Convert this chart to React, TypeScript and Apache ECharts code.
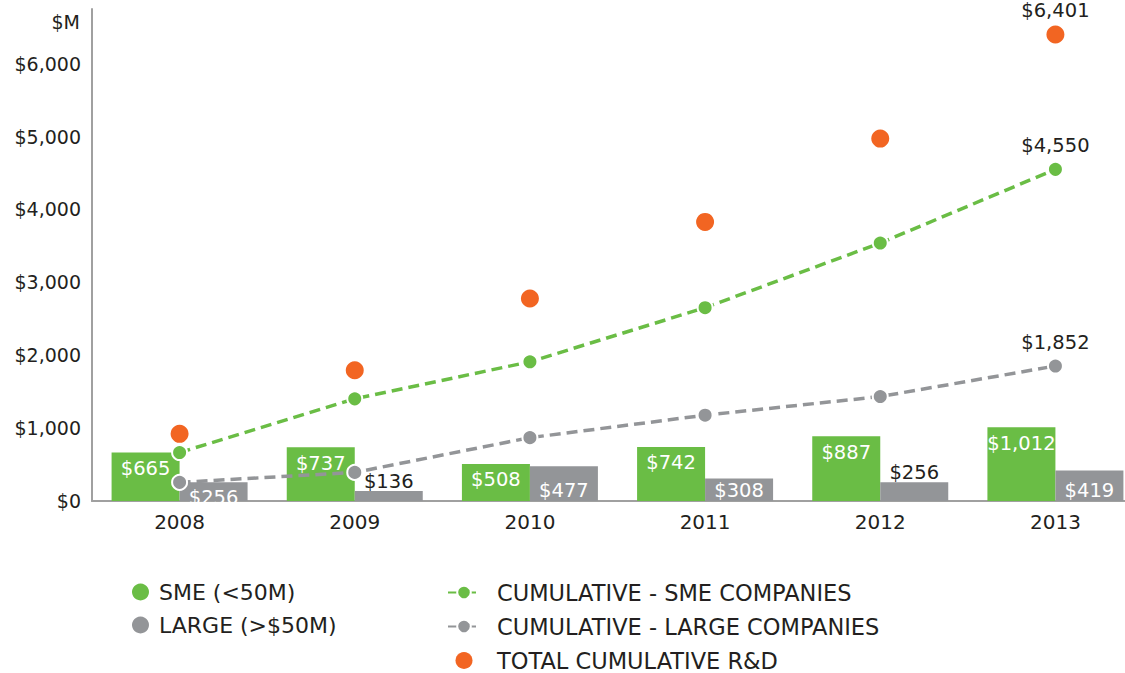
import React, { useEffect, useRef } from "react";
import * as echarts from "echarts";

const years = ["2008", "2009", "2010", "2011", "2012", "2013"];
const smeAnnual = [665, 737, 508, 742, 887, 1012];
const largeAnnual = [256, 136, 477, 308, 256, 419];
const smeCumulative = [665, 1402, 1910, 2652, 3539, 4550];
const largeCumulative = [256, 392, 869, 1177, 1433, 1852];
const totalCumulative = [921, 1794, 2779, 3829, 4972, 6401];
const yTickValues = [0, 1000, 2000, 3000, 4000, 5000, 6000];

const NAMES = {
  sme: "SME (<50M)",
  large: "LARGE (>$50M)",
  cumSme: "CUMULATIVE - SME COMPANIES",
  cumLarge: "CUMULATIVE - LARGE COMPANIES",
  total: "TOTAL CUMULATIVE R&D",
};

const GREEN = "#6abd45";
const GRAY = "#939598";
const ORANGE = "#f26522";
const TEXT = "#231f20";
const AXIS = "#a0a0a0";
const FONT = "DejaVu Sans";

const money = (v: number) => "$" + v.toLocaleString("en-US");

export default function App() {
  const ref = useRef<HTMLDivElement>(null);

  useEffect(() => {
    if (!ref.current) return;
    const chart = echarts.init(ref.current, undefined, { renderer: "svg" });
    const last = years.length - 1;

    const endLabel = {
      show: true,
      position: "top",
      distance: 5,
      color: TEXT,
      fontSize: 19.5,
      fontFamily: FONT,
      formatter: (p: any) => money(p.value),
    };

    const lineData = (arr: number[]) =>
      arr.map((v, i) => (i === last ? { value: v, label: endLabel } : v));

    const largeData = largeAnnual.map((v, i) => {
      const above = i === 1 || i === 4;
      return {
        value: v,
        label: above
          ? { show: true, position: "top", distance: 0, color: TEXT }
          : {
              show: true,
              position: "insideBottom",
              distance: 1,
              color: "#ffffff",
              offset: i === 0 ? [0, 7] : [0, 0],
            },
      };
    });

    const legendCommon = {
      orient: "vertical",
      top: 581,
      height: 100,
      padding: 0,
      itemHeight: 17,
      itemGap: 11,
      selectedMode: false,
    };

    const option: any = {
      animation: false,
      textStyle: { fontFamily: FONT },
      grid: {
        left: 92,
        width: 1051,
        top: 9,
        bottom: 172,
        containLabel: false,
        outerBoundsMode: "none",
      },
      graphic: [
        {
          type: "text",
          x: 80,
          y: 22,
          style: {
            text: "$M",
            align: "right",
            verticalAlign: "middle",
            textAlign: "right",
            textVerticalAlign: "middle",
            fill: TEXT,
            fontSize: 19,
            fontFamily: FONT,
          },
        },
      ],
      legend: [
        {
          ...legendCommon,
          data: [
            { name: NAMES.sme, icon: "circle" },
            { name: NAMES.large, icon: "circle" },
          ],
          left: 132,
          itemWidth: 17,
          textStyle: { fontSize: 22, color: TEXT, fontFamily: FONT, padding: [0, 0, 0, 5] },
        },
        {
          ...legendCommon,
          data: [
            { name: NAMES.cumSme },
            { name: NAMES.cumLarge },
            { name: NAMES.total, icon: "circle" },
          ],
          left: 447,
          itemWidth: 32,
          textStyle: { fontSize: 22.5, color: TEXT, fontFamily: FONT, padding: [0, 0, 0, 12] },
        },
      ],
      xAxis: {
        type: "category",
        data: years,
        axisLine: { show: true, lineStyle: { color: AXIS, width: 2 } },
        axisTick: { show: false },
        axisLabel: { fontSize: 20, color: TEXT, fontFamily: FONT, margin: 11 },
      },
      yAxis: {
        type: "value",
        min: 0,
        max: 6750,
        interval: 1000,
        axisLine: { show: true, lineStyle: { color: AXIS, width: 2 } },
        axisTick: { show: false },
        splitLine: { show: false },
        axisLabel: {
          fontSize: 19,
          color: TEXT,
          fontFamily: FONT,
          margin: 11,
          showMaxLabel: false,
          formatter: (v: number) => (yTickValues.includes(v) ? money(v) : ""),
        },
      },
      series: [
        {
          name: NAMES.sme,
          type: "bar",
          data: smeAnnual,
          barWidth: 68,
          barGap: "0%",
          itemStyle: { color: GREEN },
          label: {
            show: true,
            position: "insideTop",
            distance: 6,
            color: "#ffffff",
            fontSize: 19.5,
            fontFamily: FONT,
            formatter: (p: any) => money(p.value),
          },
        },
        {
          name: NAMES.large,
          type: "bar",
          data: largeData,
          barWidth: 68,
          barGap: "0%",
          itemStyle: { color: GRAY },
          label: {
            fontSize: 19.5,
            fontFamily: FONT,
            formatter: (p: any) => money(p.value),
          },
        },
        {
          name: NAMES.cumSme,
          type: "line",
          data: lineData(smeCumulative),
          symbol: "circle",
          symbolSize: 15,
          lineStyle: { color: GREEN, width: 3.5, type: [11, 6] },
          itemStyle: { color: GREEN, borderColor: "#ffffff", borderWidth: 2 },
          z: 3,
        },
        {
          name: NAMES.cumLarge,
          type: "line",
          data: lineData(largeCumulative),
          symbol: "circle",
          symbolSize: 15,
          lineStyle: { color: GRAY, width: 3.5, type: [11, 6] },
          itemStyle: { color: GRAY, borderColor: "#ffffff", borderWidth: 2 },
          z: 3,
        },
        {
          name: NAMES.total,
          type: "scatter",
          data: lineData(totalCumulative),
          symbol: "circle",
          symbolSize: 18,
          itemStyle: { color: ORANGE, opacity: 1 },
          z: 4,
        },
      ],
    };

    chart.setOption(option);
    return () => chart.dispose();
  }, []);

  return (
    <div
      ref={ref}
      style={{ position: "fixed", left: 0, top: 0, width: 1125, height: 673, background: "#ffffff" }}
    />
  );
}
